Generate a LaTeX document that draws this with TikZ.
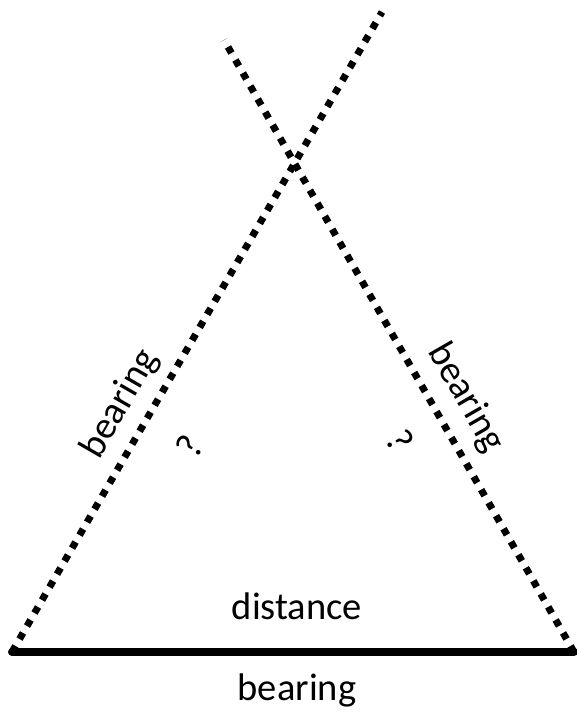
\documentclass[tikz,border=0pt]{standalone}
\usepackage{fontspec}
\setmainfont{Carlito}
\begin{document}
\begin{tikzpicture}[x=1pt,y=-1pt,
  dotline/.style={line width=7pt,dash pattern=on 7pt off 8pt},
  baseline/.style={line width=8pt,line cap=round},
  lbl/.style={font=\fontsize{38.5}{42}\selectfont,inner sep=0pt}]
\useasboundingbox (0,0) rectangle (577,718);
\coordinate (A) at (12,652);
\coordinate (B) at (574,652);
\coordinate (LT) at (382,12);
\coordinate (RT) at (224,40);
\draw[dotline] (A) -- (LT);
\draw[dotline] (B) -- (RT);
\draw[baseline] (A) -- (B);
\node[lbl] (dist) at (297,606) {distance};
\node[lbl] (bot) at (297,690) {bearing};
\node[lbl,rotate=60] (lb) at (120,404) {bearing};
\node[lbl,rotate=-60] (rb) at (466,398) {bearing};
\node[lbl,rotate=60] (lq) at (190,446) {?};
\node[lbl,rotate=-60] (rq) at (400,441) {?};
\end{tikzpicture}
\end{document}
